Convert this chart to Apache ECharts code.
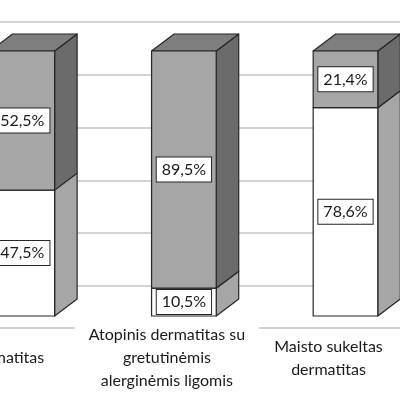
<!DOCTYPE html>
<html><head><meta charset="utf-8">
<script src="https://cdn.jsdelivr.net/npm/echarts@6/dist/echarts.min.js"></script>
<style>html,body{margin:0;padding:0;background:#fff}#c{width:400px;height:393px}</style>
</head><body><div id="c"></div>
<script>
const categories = ['Dermatitas', 'Atopinis dermatitas su\ngretutinėmis\nalerginėmis ligomis', 'Maisto sukeltas\ndermatitas'];
const lowerValues = [47.5, 10.5, 78.6];
const upperValues = [52.5, 89.5, 21.4];
const axisMax = 100;
const gridInterval = 20;

const DX = 22.5, DY = -17;
function fmt(v){ return v.toFixed(1).replace('.', ',') + '%'; }
function makeRender(front, side, top, drawTop){
  return function(params, api){
    const cat = api.value(0), base = api.value(1), val = api.value(2);
    const pb = api.coord([cat, base]);
    const pt = api.coord([cat, base + val]);
    const hw = api.size([1, 0])[0] * 0.2;
    const x0 = pb[0] - hw, x1 = pb[0] + hw, yb = pb[1], yt = pt[1];
    const st = {stroke: '#262626', lineWidth: 1.2, lineJoin: 'round'};
    const children = [
      {type: 'polygon', shape: {points: [[x1, yb], [x1 + DX, yb + DY], [x1 + DX, yt + DY], [x1, yt]]}, style: Object.assign({fill: side}, st)}
    ];
    if (drawTop) children.push({type: 'polygon', shape: {points: [[x0, yt], [x0 + DX, yt + DY], [x1 + DX, yt + DY], [x1, yt]]}, style: Object.assign({fill: top}, st)});
    children.push({type: 'rect', shape: {x: x0, y: yt, width: x1 - x0, height: yb - yt}, style: Object.assign({fill: front}, st)});
    children.push({type: 'text', x: pb[0], y: (yb + yt) / 2, z2: 10, style: {
      text: fmt(val), align: 'center', verticalAlign: 'middle', fill: '#1a1a1a',
      fontSize: 16, fontFamily: 'Lato', backgroundColor: '#fff', borderColor: '#262626', borderWidth: 1, padding: [4, 5]
    }});
    return {type: 'group', children: children};
  };
}

const lowerData = lowerValues.map((v, i) => [i, 0, v]);
const upperData = upperValues.map((v, i) => [i, lowerValues[i], v]);

const chart = echarts.init(document.getElementById('c'), null, {renderer: 'canvas'});
chart.setOption({
  animation: false,
  backgroundColor: '#fff',
  grid: [
    {left: -58.5, right: -26.3, top: 51, bottom: 77, containLabel: false, outerBoundsMode: 'none'},
    {left: 0, right: 0, top: 22, bottom: 107, containLabel: false, outerBoundsMode: 'none'},
    {left: -75.5, right: -9.3, top: 51, bottom: 65, containLabel: false, outerBoundsMode: 'none'}
  ],
  xAxis: [
    {type: 'category', gridIndex: 0, data: categories, show: false},
    {type: 'value', gridIndex: 1, show: false},
    {type: 'category', gridIndex: 2, data: categories,
      axisLine: {show: true, lineStyle: {color: '#bfbfbf', width: 1.5}},
      axisTick: {show: false},
      axisLabel: {verticalAlign: 'middle', margin: 30, color: '#1a1a1a', fontFamily: 'Lato', fontSize: 16,
        lineHeight: 23, backgroundColor: '#fff', padding: [0, 14], interval: 0, hideOverlap: false}
    }
  ],
  yAxis: [
    {type: 'value', gridIndex: 0, min: 0, max: axisMax, show: false},
    {type: 'value', gridIndex: 1, min: 0, max: axisMax, interval: gridInterval,
      axisLine: {show: false}, axisTick: {show: false}, axisLabel: {show: false},
      splitLine: {show: true, lineStyle: {color: '#c4c4c4', width: 1.5}}},
    {type: 'value', gridIndex: 2, show: false}
  ],
  series: [
    {type: 'custom', xAxisIndex: 0, yAxisIndex: 0, z: 3, renderItem: makeRender('#ffffff', '#a6a6a6', '#d0d0d0', false),
      encode: {x: 0, y: [1, 2]}, data: lowerData},
    {type: 'custom', xAxisIndex: 0, yAxisIndex: 0, z: 4, renderItem: makeRender('#a6a6a6', '#6b6b6b', '#7f7f7f', true),
      encode: {x: 0, y: [1, 2]}, data: upperData}
  ]
});
</script>
</body></html>
